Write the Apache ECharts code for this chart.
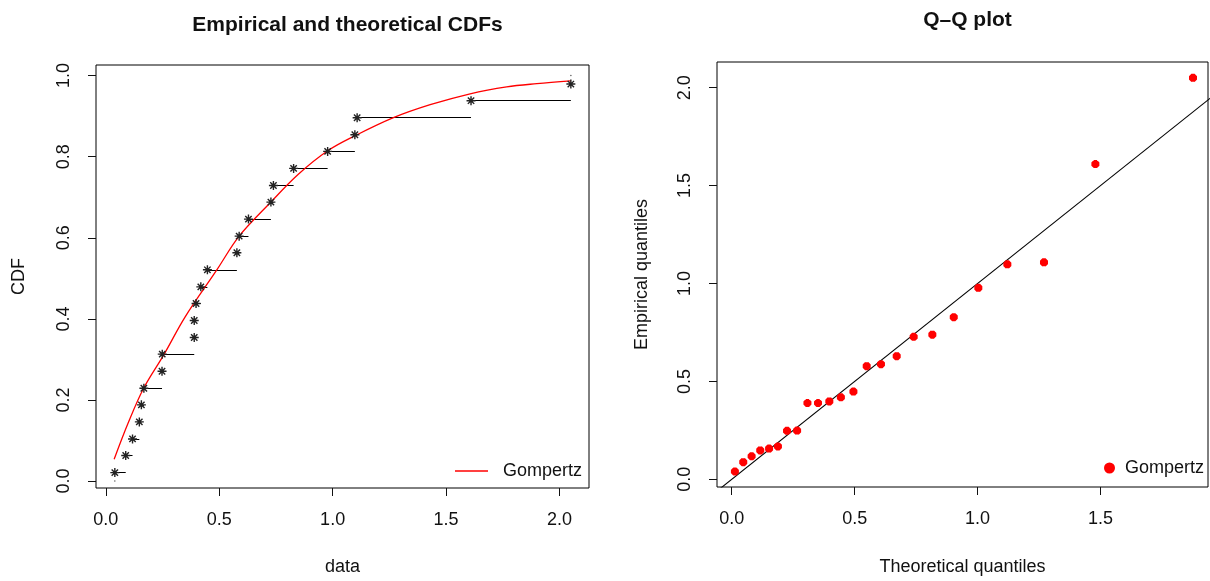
<!DOCTYPE html>
<html><head><meta charset="utf-8">
<script src="https://cdn.jsdelivr.net/npm/echarts@6/dist/echarts.min.js"></script>
<style>html,body{margin:0;padding:0;background:#fff}#c{width:1210px;height:581px}</style>
</head><body><div id="c"></div>
<script>
// ---- data ----
const obs = [0.040, 0.088, 0.118, 0.148, 0.157, 0.168, 0.248, 0.249, 0.390, 0.390, 0.398, 0.419,
             0.448, 0.578, 0.588, 0.629, 0.728, 0.739, 0.828, 0.978, 1.098, 1.108, 1.610, 2.050];
const ecdfP = [0.021, 0.063, 0.104, 0.146, 0.188, 0.229, 0.271, 0.313, 0.354, 0.396, 0.438, 0.479,
               0.521, 0.563, 0.604, 0.646, 0.688, 0.729, 0.771, 0.813, 0.854, 0.896, 0.938, 0.979];
const theoQ = [0.013, 0.047, 0.081, 0.116, 0.152, 0.188, 0.225, 0.266, 0.308, 0.351, 0.397, 0.444,
               0.495, 0.549, 0.607, 0.671, 0.740, 0.816, 0.903, 1.003, 1.121, 1.270, 1.479, 1.876];
const curveX = [0.037, 0.10, 0.167, 0.257, 0.35, 0.491, 0.588, 0.727, 0.85, 0.98, 1.097, 1.268, 1.43, 1.606, 1.767, 1.90, 2.05];
const curveY = [0.054, 0.145, 0.229, 0.3125, 0.405, 0.522, 0.604, 0.6875, 0.757, 0.815, 0.851, 0.896, 0.928, 0.955, 0.972, 0.980, 0.987];
const endDotX = [0.040, 2.050];
const endDotY = [0.0, 1.0];
const qqLineX = [-0.2, 2.2];
const qqLineY = [-0.2, 2.2];
const cdfXTicks = [0, 0.5, 1, 1.5, 2];
const cdfYTicks = [0, 0.2, 0.4, 0.6, 0.8, 1];
const qqXTicks = [0, 0.5, 1, 1.5];
const qqYTicks = [0, 0.5, 1, 1.5, 2];

// ---- chart ----
const FF = '"Liberation Sans", Arial, Helvetica, sans-serif';
const INK = '#111';
const STAR = 'path://M0,-5L0,5M-5,0L5,0M-3.54,-3.54L3.54,3.54M-3.54,3.54L3.54,-3.54';
const fmt = v => v.toFixed(1);

function axis(kind, idx, min, max, ticks, name, gap, labelMargin) {
  const a = {
    type: 'value', gridIndex: idx, min: min, max: max,
    name: name, nameLocation: 'middle', nameGap: gap,
    nameTextStyle: {fontSize: 18, color: INK, fontFamily: FF},
    axisLine: {show: false, onZero: false},
    axisTick: {show: true, length: 8, customValues: ticks, lineStyle: {color: INK, width: 1}},
    axisLabel: {customValues: ticks, formatter: fmt, fontSize: 18, color: INK, fontFamily: FF, margin: labelMargin},
    splitLine: {show: false}
  };
  if (kind === 'y') { a.axisLabel.rotate = 90; }
  return a;
}

const segs = [];
for (let i = 0; i < obs.length - 1; i++) {
  segs.push({coords: [[obs[i], ecdfP[i]], [obs[i + 1], ecdfP[i]]]});
}

const chart = echarts.init(document.getElementById('c'), null, {renderer: 'canvas'});
chart.setOption({
  animation: false,
  backgroundColor: '#fff',
  textStyle: {fontFamily: FF},
  title: [
    {text: 'Empirical and theoretical CDFs', left: 342.5, textAlign: 'center', top: 10,
     textStyle: {fontSize: 21, fontWeight: 'bold', color: INK, fontFamily: FF}},
    {text: 'Q\u2013Q plot', left: 962.5, textAlign: 'center', top: 5,
     textStyle: {fontSize: 21, fontWeight: 'bold', color: INK, fontFamily: FF}}
  ],
  grid: [
    {left: 96, right: 621, top: 65, bottom: 89, show: true, borderColor: '#000', borderWidth: 1, containLabel: false},
    {left: 717, right: 2, top: 62, bottom: 92, show: true, borderColor: '#000', borderWidth: 1, containLabel: false}
  ],
  xAxis: [
    axis('x', 0, -0.043, 2.13, cdfXTicks, 'data', 70, 23),
    axis('x', 1, -0.0598, 1.937, qqXTicks, 'Theoretical quantiles', 71, 23)
  ],
  yAxis: [
    axis('y', 0, -0.017, 1.026, cdfYTicks, 'CDF', 68, 23),
    axis('y', 1, -0.039, 2.131, qqYTicks, 'Empirical quantiles', 66, 23)
  ],
  legend: [
    {data: [{name: 'cdfGompertz', icon: 'rect'}], left: 450, top: 457, itemWidth: 33, itemHeight: 1.5,
     formatter: () => 'Gompertz', textStyle: {fontSize: 18, color: INK, fontFamily: FF, padding: [0, 0, 0, 10]},
     selectedMode: false},
    {data: [{name: 'qqGompertz', icon: 'circle'}], left: 1099, top: 454, itemWidth: 9, itemHeight: 9,
     formatter: () => 'Gompertz', textStyle: {fontSize: 18, color: INK, fontFamily: FF, padding: [0, 0, 0, 6]},
     itemStyle: {color: '#ff0000'},
     selectedMode: false}
  ],
  series: [
    {type: 'lines', coordinateSystem: 'cartesian2d', xAxisIndex: 0, yAxisIndex: 0, silent: true,
     lineStyle: {color: '#000', width: 1, opacity: 1}, data: segs, z: 2},
    {type: 'line', name: 'cdfGompertz', xAxisIndex: 0, yAxisIndex: 0, smooth: 0.35, showSymbol: false,
     lineStyle: {color: '#ff0000', width: 1.3}, itemStyle: {color: '#ff0000'},
     data: curveX.map((x, i) => [x, curveY[i]]), z: 3},
    {type: 'scatter', name: 'ecdfPoints', xAxisIndex: 0, yAxisIndex: 0, symbol: STAR, symbolSize: 9,
     itemStyle: {color: 'rgba(0,0,0,0)', borderColor: '#222', borderWidth: 1.4, opacity: 1},
     data: obs.map((x, i) => [x, ecdfP[i]]), z: 4},
    {type: 'scatter', name: 'ends', xAxisIndex: 0, yAxisIndex: 0, symbol: 'circle', symbolSize: 1.5,
     itemStyle: {color: '#333'}, data: endDotX.map((x, i) => [x, endDotY[i]]), z: 4},
    {type: 'line', name: 'qqLine', xAxisIndex: 1, yAxisIndex: 1, showSymbol: false, clip: true,
     lineStyle: {color: '#000', width: 1.1}, data: qqLineX.map((x, i) => [x, qqLineY[i]]), z: 2},
    {type: 'scatter', name: 'qqGompertz', xAxisIndex: 1, yAxisIndex: 1, symbol: STAR, symbolSize: 8,
     itemStyle: {color: '#ff0000', borderColor: '#ff0000', borderWidth: 3.5, opacity: 1},
     data: theoQ.map((x, i) => [x, obs[i]]), z: 4}
  ]
});
</script></body></html>
